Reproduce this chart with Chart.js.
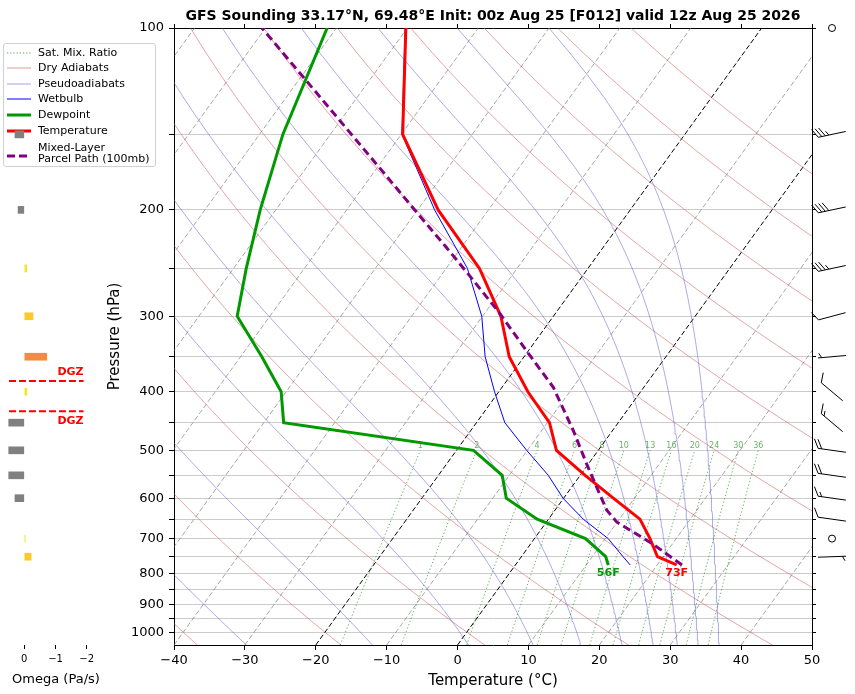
<!DOCTYPE html>
<html>
<head>
<meta charset="utf-8">
<script src="https://cdn.jsdelivr.net/npm/chart.js@4.4.1/dist/chart.umd.min.js"></script>
<style>
  html, body { margin: 0; padding: 0; background: #fff; }
  #wrap { position: relative; width: 855px; height: 694px; overflow: hidden; font-family: 'DejaVu Sans', sans-serif; }
  canvas { position: absolute; left: 0; top: 0; }
  #title { position: absolute; left: 174px; width: 638px; top: 7px; text-align: center; font-weight: bold; font-size: 14px; line-height: 16px; white-space: nowrap; color: #000; }
  #legend { position: absolute; left: 3px; top: 43px; width: 153px; height: 124px; box-sizing: border-box; border: 1px solid #d0d0d0; border-radius: 3px; background: rgba(255,255,255,0.8); font-size: 11px; color: #000; }
  .lg { position: absolute; left: 0; height: 14px; line-height: 14px; white-space: nowrap; }
  .lg svg { position: absolute; left: 3px; top: 2px; }
  .lg span { position: absolute; left: 34px; top: 0; }
</style>
</head>
<body>
<div id="wrap">
  <canvas id="skew" width="855" height="694"></canvas>
  <div id="title">GFS Sounding 33.17°N, 69.48°E Init: 00z Aug 25 [F012] valid 12z Aug 25 2026</div>
  <div id="legend">
    <div class="lg" style="top:2px"><svg width="24" height="10"><line x1="0" y1="5" x2="24" y2="5" stroke="rgba(0,128,0,0.7)" stroke-width="1" stroke-dasharray="1.2,2"/></svg><span>Sat. Mix. Ratio</span></div>
    <div class="lg" style="top:17px"><svg width="24" height="10"><line x1="0" y1="5" x2="24" y2="5" stroke="rgba(205,92,92,0.6)" stroke-width="1"/></svg><span>Dry Adiabats</span></div>
    <div class="lg" style="top:32.5px"><svg width="24" height="10"><line x1="0" y1="5" x2="24" y2="5" stroke="rgba(90,90,210,0.55)" stroke-width="1"/></svg><span>Pseudoadiabats</span></div>
    <div class="lg" style="top:48px"><svg width="24" height="10"><line x1="0" y1="5" x2="24" y2="5" stroke="#0000ff" stroke-width="1"/></svg><span>Wetbulb</span></div>
    <div class="lg" style="top:64px"><svg width="24" height="10"><line x1="0" y1="5" x2="24" y2="5" stroke="#009900" stroke-width="3"/></svg><span>Dewpoint</span></div>
    <div class="lg" style="top:80px"><svg width="24" height="10"><line x1="0" y1="5" x2="24" y2="5" stroke="#ff0000" stroke-width="3"/></svg><span>Temperature</span></div>
    <div class="lg" style="top:96px;height:28px"><svg width="24" height="10" style="top:11px"><line x1="0" y1="5" x2="24" y2="5" stroke="#800080" stroke-width="3" stroke-dasharray="8,4"/></svg><span style="line-height:11px;top:2px">Mixed-Layer<br>Parcel Path (100mb)</span></div>
  </div>
  <canvas id="omega" width="110" height="694"></canvas>
</div>
<script>
// ---- chart values ----
const P_BOTTOM = 1050, P_TOP = 100;
const SKEW = 61.6; // x shift in degC per decade of pressure

// sounding levels (hPa), surface first
const levels   = [774, 750, 700, 650, 600, 550, 500, 450, 400, 350, 300, 250, 200, 150, 100];
const tempC    = [22.75, 19.2, 16.3, 12.9, 7.0, 0.7, -5.9, -9.7, -15.9, -22.1, -27.4, -35.3, -47.1, -59.8, -70.2];
const dewC     = [13.1, 11.9, 7.2, -1.6, -8.1, -11.0, -17.6, -47.2, -50.7, -57.0, -64.6, -68.2, -72.2, -76.7, -81.3];
const wetbulbC = [16.2, 14.35, 10.4, 4.9, -0.1, -4.5, -10.1, -16.0, -20.6, -25.5, -30.1, -37.0, -47.6, -59.9, -70.3];

// mixed-layer parcel path
const parcelP = [774, 743, 716, 694, 657, 628, 575, 526, 463, 393, 342, 297, 255, 230, 198, 175, 100];
const parcelT = [23.5, 20.3, 17.4, 14.7, 9.9, 7.3, 3.5, -0.3, -5.6, -12.8, -20.3, -27.8, -36.4, -42.3, -51.0, -58.1, -90.5];

// omega panel
const omegaP   = [150, 200, 250, 300, 350, 400, 450, 500, 550, 600, 650, 700, 750];
const omegaPaS = [0.3, 0.2, -0.08, -0.28, -0.72, -0.08, 0.5, 0.5, 0.5, 0.3, 0.0, -0.03, -0.22];
const dgzP = [384, 431];

// winds
const windP   = [100, 150, 200, 250, 300, 350, 400, 450, 500, 550, 600, 650, 700, 750];
const windDir = [0, 258, 258, 258, 255, 265, 310, 310, 278, 278, 278, 278, 0, 88];
const windKt  = [0, 35, 40, 35, 10, 5, 10, 15, 20, 20, 15, 10, 0, 5];

// background line families
const isothermsC   = [-100, -90, -80, -70, -60, -50, -40, -30, -20, -10, 0, 10, 20, 30, 40, 50];
const hiIsotherms  = [-20, 0];
const dryT0        = [-40, -20, 0, 20, 40, 60, 80, 100, 120, 140, 160, 180];
const moistT0      = [-33, -15, -1, 8.5, 15.5, 21.5, 26, 29.5, 32.5, 35.5];
const mixingGkg    = [1, 2, 4, 6, 8, 10, 13, 16, 20, 24, 30, 36];

// axis ticks
const tempTicks = [-40, -30, -20, -10, 0, 10, 20, 30, 40, 50];
const presTicks = [100, 150, 200, 250, 300, 350, 400, 450, 500, 550, 600, 650, 700, 750, 800, 850, 900, 950, 1000];
const presLabels = [100, 200, 300, 400, 500, 600, 700, 800, 900, 1000];
const omegaTicks = [0, -1, -2];

// ---- helpers ----
const skewX = (t, p) => t + SKEW * Math.log10(P_BOTTOM / p);
const pts = (ps, ts) => ps.map((p, i) => ({ x: skewX(ts[i], p), y: p }));
const minus = v => (v < 0 ? '\u2212' + Math.abs(v) : String(v));

function pRange(p0, p1, step) {
  const out = [];
  for (let p = p0; p >= p1; p -= step) out.push(p);
  return out;
}

function dryT(t0, p) {
  return (t0 + 273.15) * Math.pow(p / 1000, 0.2857) - 273.15;
}

// pseudoadiabatic lapse rate, dT/dlnp
function moistRate(lnp, T) {
  const p = Math.exp(lnp);
  const es = 6.112 * Math.exp(17.67 * (T - 273.15) / (T - 29.65));
  const rs = 0.622 * es / (p - es);
  const Lv = 2.501e6;
  return (287.04 * T + Lv * rs) / (1005.7 + Lv * Lv * rs * 0.622 / (287.04 * T * T));
}

function moistT(t0, p) {
  let T = t0 + 273.15, x = Math.log(1000);
  const n = 40, h = (Math.log(p) - x) / n;
  for (let i = 0; i < n; i++) {
    const k1 = moistRate(x, T);
    const k2 = moistRate(x + h / 2, T + h * k1 / 2);
    const k3 = moistRate(x + h / 2, T + h * k2 / 2);
    const k4 = moistRate(x + h, T + h * k3);
    T += h * (k1 + 2 * k2 + 2 * k3 + k4) / 6;
    x += h;
  }
  return T - 273.15;
}

function mixTd(w, p) {
  const e = p * w / (622 + w);
  const l = Math.log(e / 6.112);
  return 243.5 * l / (17.67 - l);
}

function line(data, style) {
  return Object.assign({ data, showLine: true, pointRadius: 0, pointHitRadius: 0, fill: false, tension: 0, clip: 0 }, style);
}

function omegaColor(w) {
  if (w === 0) return 'rgba(0,0,0,0)';
  if (w > 0) return '#808080';
  if (w > -0.15) return '#f0e62e';
  if (w > -0.5) return '#fcc92c';
  return '#f28c45';
}

Chart.defaults.font.family = "'DejaVu Sans', sans-serif";
Chart.defaults.color = '#000';

// ---- main skew-T ----
const fullP = pRange(1050, 100, 10);
const mixP = pRange(1050, 500, 10);
const datasets = [];

isothermsC.forEach(t => datasets.push(line(pts([P_BOTTOM, P_TOP], [t, t]), {
  borderColor: hiIsotherms.includes(t) ? '#000000' : 'rgba(120,120,120,0.65)',
  borderWidth: 1, borderDash: [5, 2.5], order: 8
})));
dryT0.forEach(t0 => datasets.push(line(pts(fullP, fullP.map(p => dryT(t0, p))), {
  borderColor: 'rgba(205,92,92,0.55)', borderWidth: 1, order: 7
})));
moistT0.forEach(t0 => datasets.push(line(pts(fullP, fullP.map(p => moistT(t0, p))), {
  borderColor: 'rgba(90,90,210,0.5)', borderWidth: 1, order: 6
})));
mixingGkg.forEach(w => datasets.push(line(pts(mixP, mixP.map(p => mixTd(w, p))), {
  borderColor: 'rgba(0,128,0,0.6)', borderWidth: 1, borderDash: [1.3, 2.2], order: 5
})));

datasets.push(line(pts(levels, wetbulbC), { label: 'Wetbulb', borderColor: '#0000ff', borderWidth: 1, order: 3 }));
datasets.push(line(pts(levels, dewC), { label: 'Dewpoint', borderColor: '#009900', borderWidth: 3, order: 2 }));
datasets.push(line(pts(levels, tempC), { label: 'Temperature', borderColor: '#ff0000', borderWidth: 3, order: 1 }));
datasets.push(line(pts(parcelP, parcelT), { label: 'Parcel', borderColor: '#800080', borderWidth: 3, borderDash: [8, 4.5], order: 0 }));

function drawBarb(ctx, cx, cy, dir, kt) {
  ctx.save();
  ctx.strokeStyle = '#000';
  ctx.fillStyle = '#000';
  ctx.lineWidth = 1;
  if (kt < 2.5) {
    ctx.beginPath();
    ctx.arc(cx, cy, 3.5, 0, Math.PI * 2);
    ctx.stroke();
    ctx.restore();
    return;
  }
  const r = dir * Math.PI / 180;
  const ux = Math.sin(r), uy = -Math.cos(r);   // toward where the wind comes from
  const nx = -uy, ny = ux;                      // barb side
  const L = 28, H = 9, W = 5, S = 3.6;
  const ex = cx + ux * L / 2, ey = cy + uy * L / 2;
  ctx.beginPath();
  ctx.moveTo(cx - ux * L / 2, cy - uy * L / 2);
  ctx.lineTo(ex, ey);
  let rem = Math.round(kt / 5) * 5;
  const flags = Math.floor(rem / 50); rem -= flags * 50;
  const full = Math.floor(rem / 10); rem -= full * 10;
  const half = rem >= 5 ? 1 : 0;
  let pos = 0;
  for (let i = 0; i < flags; i++) {
    const bx = ex - ux * pos, by = ey - uy * pos;
    ctx.moveTo(bx, by);
    ctx.lineTo(bx + nx * H, by + ny * H);
    ctx.lineTo(bx - ux * S * 1.6, by - uy * S * 1.6);
    pos += S * 2;
  }
  for (let i = 0; i < full; i++) {
    const bx = ex - ux * pos, by = ey - uy * pos;
    ctx.moveTo(bx, by);
    ctx.lineTo(bx + nx * H + ux * W, by + ny * H + uy * W);
    pos += S;
  }
  if (half) {
    if (flags + full === 0) pos += S;
    const bx = ex - ux * pos, by = ey - uy * pos;
    ctx.moveTo(bx, by);
    ctx.lineTo(bx + nx * H / 2 + ux * W / 2, by + ny * H / 2 + uy * W / 2);
  }
  ctx.stroke();
  ctx.restore();
}

const skewDecor = {
  id: 'skewDecor',
  beforeDatasetsDraw(chart) {
    const { ctx, chartArea } = chart;
    const xs = chart.scales.x, ys = chart.scales.y;
    ctx.save();
    ctx.beginPath();
    ctx.rect(chartArea.left, chartArea.top, chartArea.right - chartArea.left, chartArea.bottom - chartArea.top);
    ctx.clip();
    ctx.font = "8px 'DejaVu Sans', sans-serif";
    ctx.fillStyle = 'rgba(0,128,0,0.6)';
    ctx.textAlign = 'center';
    ctx.textBaseline = 'middle';
    mixingGkg.forEach(w => {
      const px = xs.getPixelForValue(skewX(mixTd(w, 500), 500));
      const py = ys.getPixelForValue(500) - 4.5;
      ctx.fillText(String(w), px, py);
    });
    ctx.restore();
  },
  afterDatasetsDraw(chart) {
    const { ctx } = chart;
    const xs = chart.scales.x, ys = chart.scales.y;
    const ps = levels[0];
    ctx.save();
    ctx.font = "bold 11px 'DejaVu Sans', sans-serif";
    ctx.textAlign = 'center';
    ctx.textBaseline = 'middle';
    const y = ys.getPixelForValue(ps) + 8;
    ctx.fillStyle = '#009900';
    ctx.fillText(Math.round(dewC[0] * 9 / 5 + 32) + 'F', xs.getPixelForValue(skewX(dewC[0], ps)), y);
    ctx.fillStyle = '#ff0000';
    ctx.fillText(Math.round(tempC[0] * 9 / 5 + 32) + 'F', xs.getPixelForValue(skewX(tempC[0], ps)), y);
    ctx.restore();
  },
  afterDraw(chart) {
    const { ctx, chartArea } = chart;
    const ys = chart.scales.y;
    const bx = chartArea.right + 20;
    windP.forEach((p, i) => drawBarb(ctx, bx, ys.getPixelForValue(p), windDir[i], windKt[i]));
  }
};

const tickGrid = { drawOnChartArea: false, drawTicks: true, tickLength: 5, tickColor: '#000' };

new Chart(document.getElementById('skew'), {
  type: 'scatter',
  data: { datasets },
  plugins: [skewDecor],
  options: {
    responsive: false,
    animation: false,
    events: [],
    layout: { padding: { left: 102, right: 38, top: 23, bottom: 0 } },
    plugins: { legend: { display: false }, tooltip: { enabled: false } },
    scales: {
      x: {
        type: 'linear', position: 'bottom', min: -40, max: 50,
        afterBuildTicks: s => { s.ticks = tempTicks.map(v => ({ value: v })); },
        ticks: { font: { size: 13 }, color: '#000', padding: 3, maxRotation: 0, callback: v => minus(v) },
        grid: tickGrid,
        border: { color: '#000', width: 1 },
        title: { display: true, text: 'Temperature (°C)', font: { size: 15 }, color: '#000', padding: { top: 4, bottom: 4 } },
        afterFit: s => { s.height = 49; }
      },
      x2: {
        type: 'linear', position: 'top', min: -40, max: 50,
        afterBuildTicks: s => { s.ticks = tempTicks.map(v => ({ value: v })); },
        ticks: { display: false },
        grid: Object.assign({}, tickGrid, { tickLength: 4 }),
        border: { color: '#000', width: 1 },
        afterFit: s => { s.height = 5; }
      },
      y: {
        type: 'logarithmic', position: 'left', reverse: true, min: P_TOP, max: P_BOTTOM,
        afterBuildTicks: s => { s.ticks = presTicks.map(v => ({ value: v })); },
        ticks: { font: { size: 13 }, color: '#000', padding: 5, autoSkip: false,
          callback: v => (presLabels.includes(v) ? String(v) : '') },
        grid: { drawOnChartArea: true, drawTicks: true, tickLength: 5, color: '#cccccc', tickColor: '#000', lineWidth: 1 },
        border: { color: '#000', width: 1 },
        title: { display: true, text: 'Pressure (hPa)', font: { size: 15 }, color: '#000', padding: { top: 4, bottom: 4 } },
        afterFit: s => { s.width = 72; }
      },
      y2: {
        type: 'logarithmic', position: 'right', reverse: true, min: P_TOP, max: P_BOTTOM,
        afterBuildTicks: s => { s.ticks = presTicks.map(v => ({ value: v })); },
        ticks: { display: false },
        grid: Object.assign({}, tickGrid, { tickLength: 4 }),
        border: { color: '#000', width: 1 },
        afterFit: s => { s.width = 5; }
      }
    }
  }
});

// ---- omega panel ----
const omegaDecor = {
  id: 'omegaDecor',
  afterDraw(chart) {
    const { ctx } = chart;
    const xs = chart.scales.x, ys = chart.scales.y;
    ctx.save();
    ctx.font = "bold 11px 'DejaVu Sans', sans-serif";
    ctx.fillStyle = '#ff0000';
    ctx.textAlign = 'right';
    ctx.textBaseline = 'middle';
    const rx = xs.getPixelForValue(-1.9);
    ctx.fillText('DGZ', rx, ys.getPixelForValue(dgzP[0]) - 9);
    ctx.fillText('DGZ', rx, ys.getPixelForValue(dgzP[1]) + 10);
    ctx.restore();
  }
};

new Chart(document.getElementById('omega'), {
  type: 'bar',
  data: {
    datasets: [
      ...dgzP.map(p => ({
        type: 'line', data: [{ x: 0.49, y: p }, { x: -1.9, y: p }],
        borderColor: '#ff0000', borderWidth: 2, borderDash: [7, 3], pointRadius: 0, order: 0
      })),
      {
        data: omegaP.map((p, i) => ({ x: omegaPaS[i], y: p })),
        backgroundColor: omegaPaS.map(omegaColor),
        borderWidth: 0, barThickness: 7, order: 1
      }
    ]
  },
  plugins: [omegaDecor],
  options: {
    indexAxis: 'y',
    responsive: false,
    animation: false,
    events: [],
    layout: { padding: { left: 3, right: 1, top: 28, bottom: 0 } },
    plugins: { legend: { display: false }, tooltip: { enabled: false } },
    scales: {
      x: {
        type: 'linear', reverse: true, min: -2.715, max: 0.683,
        afterBuildTicks: s => { s.ticks = omegaTicks.map(v => ({ value: v })); },
        ticks: { font: { size: 10 }, color: '#000', padding: 4, callback: v => minus(v) },
        grid: { drawOnChartArea: false, drawTicks: true, tickLength: 4, tickColor: '#000' },
        border: { display: false },
        title: { display: true, text: 'Omega (Pa/s)', font: { size: 13 }, color: '#000', padding: { top: 0, bottom: 7 } },
        afterFit: s => { s.height = 49; }
      },
      y: { type: 'logarithmic', reverse: true, min: P_TOP, max: P_BOTTOM, display: false }
    }
  }
});
</script>
</body>
</html>
